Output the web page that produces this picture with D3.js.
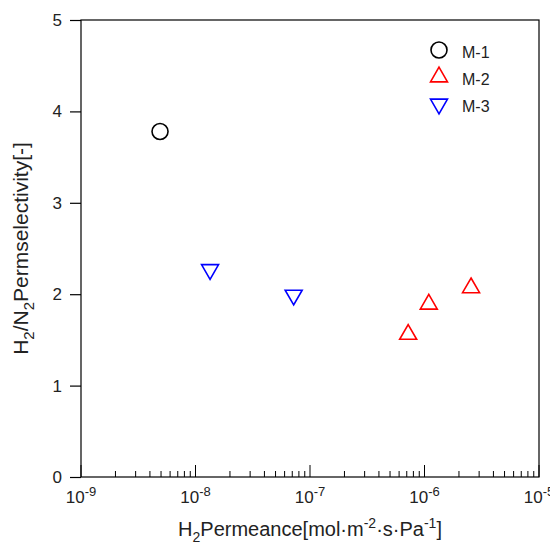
<!DOCTYPE html>
<html>
<head>
<meta charset="utf-8">
<script src="https://cdn.jsdelivr.net/npm/d3@7"></script>
<style>
  body { margin: 0; background: #fff; }
  text { font-family: "Liberation Sans", Arial, sans-serif; fill: #222; }
</style>
</head>
<body>
<svg id="chart" width="550" height="547"></svg>
<script>
// series data
const seriesNames = ["M-1", "M-2", "M-3"];
const m1Perm = [4.9e-9];
const m1Sel = [3.78];
const m2Perm = [7.2e-7, 1.09e-6, 2.55e-6];
const m2Sel = [1.56, 1.89, 2.07];
const m3Perm = [1.34e-8, 7.2e-8];
const m3Sel = [2.27, 1.99];
const xDecades = [-9, -8, -7, -6, -5];
const yTicks = [0, 1, 2, 3, 4, 5];

const svg = d3.select("#chart");
const margin = {left: 81, right: 11, top: 20, bottom: 70};
const width = 550, height = 547;

const x = d3.scaleLog().domain([1e-9, 1e-5]).range([margin.left, width - margin.right]);
const y = d3.scaleLinear().domain([0, 5]).range([height - margin.bottom, margin.top]);

// frame
svg.append("rect")
    .attr("x", x.range()[0]).attr("y", y.range()[1])
    .attr("width", x.range()[1] - x.range()[0])
    .attr("height", y.range()[0] - y.range()[1])
    .attr("fill", "none").attr("stroke", "#000").attr("stroke-width", 1.2);

// y axis, ticks outward
const yAxis = svg.append("g")
    .attr("transform", `translate(${margin.left},0)`)
    .call(d3.axisLeft(y).tickValues(yTicks).tickSize(11).tickPadding(8).tickFormat(d3.format("d")));
yAxis.select(".domain").remove();
yAxis.selectAll("line").attr("stroke", "#000").attr("stroke-width", 1.2);
yAxis.selectAll("text").style("font-size", "17px").attr("fill", "#222")
    .style("font-family", "'Liberation Sans', Arial, sans-serif");

// x axis: ticks pointing into the plot
const minor = [];
xDecades.slice(0, -1).forEach(e => {
  for (let k = 2; k <= 9; k++) minor.push(k * Math.pow(10, e));
});
const xg = svg.append("g").attr("transform", `translate(0,${y(0)})`);
xg.selectAll("line.minor").data(minor).enter().append("line")
    .attr("class", "minor")
    .attr("x1", d => x(d)).attr("x2", d => x(d))
    .attr("y1", 0).attr("y2", -6)
    .attr("stroke", "#000").attr("stroke-width", 1);
xg.selectAll("line.major").data(xDecades).enter().append("line")
    .attr("class", "major")
    .attr("x1", d => x(Math.pow(10, d))).attr("x2", d => x(Math.pow(10, d)))
    .attr("y1", 0).attr("y2", -12)
    .attr("stroke", "#000").attr("stroke-width", 1);
const xl = xg.selectAll("text.lab").data(xDecades).enter().append("text")
    .attr("class", "lab")
    .attr("x", d => x(Math.pow(10, d)))
    .attr("y", 26)
    .attr("text-anchor", "middle")
    .style("font-size", "17px");
xl.append("tspan").text("10");
xl.append("tspan").attr("dy", -7).style("font-size", "13px").text(d => d);

// axis titles
const xt = svg.append("text")
    .attr("x", (x.range()[0] + x.range()[1]) / 2)
    .attr("y", 536)
    .attr("text-anchor", "middle")
    .style("font-size", "20px");
xt.append("tspan").text("H");
xt.append("tspan").attr("dy", 6).style("font-size", "14px").text("2");
xt.append("tspan").attr("dy", -6).text("Permeance[mol·m");
xt.append("tspan").attr("dy", -8).style("font-size", "14px").text("-2");
xt.append("tspan").attr("dy", 8).text("·s·Pa");
xt.append("tspan").attr("dy", -8).style("font-size", "14px").text("-1");
xt.append("tspan").attr("dy", 8).text("]");

const yt = svg.append("text")
    .attr("transform", `translate(28,${(y.range()[0] + y.range()[1]) / 2}) rotate(-90)`)
    .attr("text-anchor", "middle")
    .style("font-size", "21px");
yt.append("tspan").text("H");
yt.append("tspan").attr("dy", 6).style("font-size", "15px").text("2");
yt.append("tspan").attr("dy", -6).text("/N");
yt.append("tspan").attr("dy", 6).style("font-size", "15px").text("2");
yt.append("tspan").attr("dy", -6).text("Permselectivity[-]");

// markers
const colors = {"M-1": "#000", "M-2": "#ff0000", "M-3": "#0000ff"};
const symbols = {
  "M-1": d3.symbol().type(d3.symbolCircle).size(201),
  "M-2": d3.symbol().type(d3.symbolTriangle).size(125),
  "M-3": d3.symbol().type(d3.symbolTriangle).size(125)
};
const rot = {"M-1": 0, "M-2": 0, "M-3": 180};

const points = [];
m1Perm.forEach((p, i) => points.push({s: "M-1", p, v: m1Sel[i]}));
m2Perm.forEach((p, i) => points.push({s: "M-2", p, v: m2Sel[i]}));
m3Perm.forEach((p, i) => points.push({s: "M-3", p, v: m3Sel[i]}));

svg.selectAll("path.pt").data(points).enter().append("path")
    .attr("class", "pt")
    .attr("d", d => symbols[d.s]())
    .attr("transform", d => `translate(${x(d.p)},${y(d.v)}) rotate(${rot[d.s]})`)
    .attr("fill", "none")
    .attr("stroke", d => colors[d.s])
    .attr("stroke-width", 1.6);

// legend
const lg = svg.append("g").attr("transform", "translate(439,50)");
const item = lg.selectAll("g").data(seriesNames).enter().append("g")
    .attr("transform", (d, i) => `translate(0,${i * 27})`);
item.append("path")
    .attr("d", d => symbols[d]())
    .attr("transform", d => `rotate(${rot[d]})`)
    .attr("fill", "none")
    .attr("stroke", d => colors[d])
    .attr("stroke-width", 1.6);
item.append("text")
    .attr("x", 23).attr("y", 8)
    .style("font-size", "16px")
    .text(d => d);
</script>
</body>
</html>
